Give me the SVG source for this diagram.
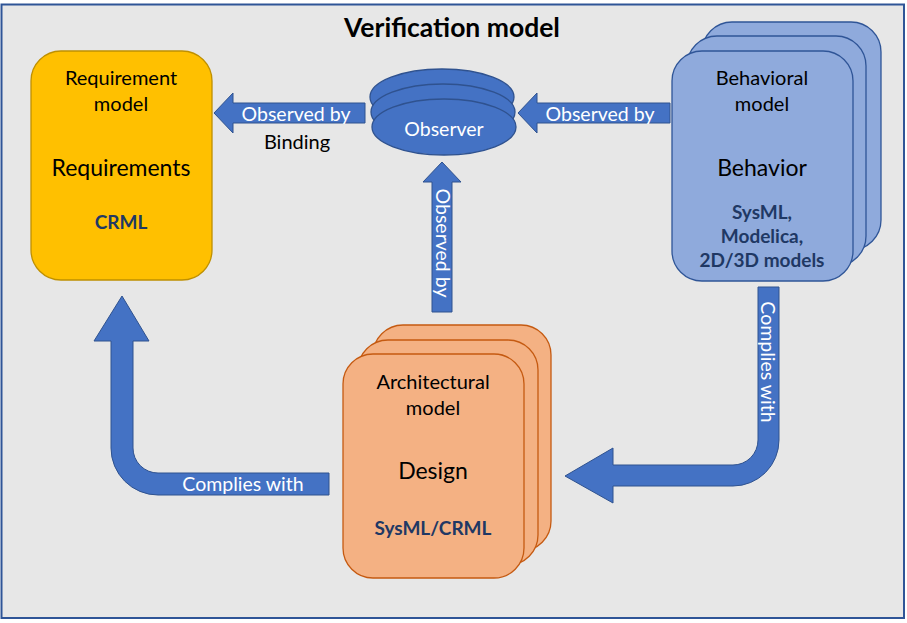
<svg xmlns="http://www.w3.org/2000/svg" width="907" height="623" viewBox="0 0 907 623">
<style>
text{font-family:Lato,"Open Sans","Liberation Sans",sans-serif;text-anchor:middle;dominant-baseline:central}
.t{font-size:20px;fill:#000}
.big{font-size:23px;fill:#000}
.lang{font-size:19px;font-weight:bold;fill:#203864}
.w{font-size:19.5px;fill:#fff}
.arrow{fill:#4472c4;stroke:#2f528f;stroke-width:1}
.req{fill:#ffc000;stroke:#bf9000;stroke-width:1.3}
.arch{fill:#f4b183;stroke:#c55a11;stroke-width:1.3}
.beh{fill:#8faadc;stroke:#2f5597;stroke-width:1.3}
.obs{fill:#4472c4;stroke:#2f528f;stroke-width:1.3}
</style>
<rect x="0" y="0" width="907" height="623" fill="#ffffff"/>
<rect x="1.5" y="4.5" width="902.5" height="613.5" fill="#e7e7e7" stroke="#2f5597" stroke-width="2"/>
<text x="452" y="27" style="font-size:26.5px;font-weight:bold">Verification model</text>

<g id="connectors">
  <path class="arrow" d="M214,113 L233,93 L233,103 L365,103 L365,123 L233,123 L233,133 Z"/>
  <text class="w" x="296" y="113">Observed by</text>
  <path class="arrow" d="M518,113 L537,93 L537,103 L670,103 L670,123 L537,123 L537,133 Z"/>
  <text class="w" x="600" y="113">Observed by</text>
  <path class="arrow" d="M442,162 L461,182 L452,182 L452,312 L432,312 L432,182 L423,182 Z"/>
  <text class="w" transform="translate(443,243) rotate(90)">Observed by</text>
  <path class="arrow" d="M122,296 L149,341 L133,341 L133,448 A25,25 0 0 0 158,473 L329,473 L329,495 L158,495 A47,47 0 0 1 111,448 L111,341 L94,341 Z"/>
  <text class="w" x="243" y="483">Complies with</text>
  <path class="arrow" d="M758,287 L779,287 L779,440 A46,46 0 0 1 733,486 L613,486 L613,503 L565,476 L613,448 L613,465 L733,465 A25,25 0 0 0 758,440 Z"/>
  <text class="w" transform="translate(768,362) rotate(90)">Complies with</text>
  <text class="t" x="297" y="141">Binding</text>
</g>

<g id="requirement-model">
  <rect class="req" x="31" y="51" width="181" height="229" rx="30" ry="30"/>
  <text class="t" x="121" y="77">Requirement</text>
  <text class="t" x="121" y="103">model</text>
  <text class="big" x="121" y="167">Requirements</text>
  <text class="lang" x="121" y="221">CRML</text>
</g>

<g id="observer">
  <ellipse class="obs" cx="442" cy="97" rx="72" ry="28"/>
  <ellipse class="obs" cx="443" cy="112" rx="72" ry="28"/>
  <ellipse class="obs" cx="444" cy="127" rx="72" ry="28"/>
  <text class="w" x="444" y="128">Observer</text>
</g>

<g id="behavioral-model">
  <rect class="beh" x="702" y="22" width="179" height="228" rx="30" ry="30"/>
  <rect class="beh" x="687" y="36" width="179" height="230" rx="30" ry="30"/>
  <rect class="beh" x="672" y="51" width="181" height="230" rx="30" ry="30"/>
  <text class="t" x="762" y="77">Behavioral</text>
  <text class="t" x="762" y="103">model</text>
  <text class="big" x="762" y="167">Behavior</text>
  <text class="lang" x="762" y="211">SysML,</text>
  <text class="lang" x="762" y="235">Modelica,</text>
  <text class="lang" x="762" y="259">2D/3D models</text>
</g>

<g id="architectural-model">
  <rect class="arch" x="373" y="325" width="178" height="226" rx="30" ry="30"/>
  <rect class="arch" x="358" y="340" width="180" height="225" rx="30" ry="30"/>
  <rect class="arch" x="343" y="354" width="181" height="224" rx="30" ry="30"/>
  <text class="t" x="433" y="381">Architectural</text>
  <text class="t" x="433" y="407">model</text>
  <text class="big" x="433" y="470">Design</text>
  <text class="lang" x="433" y="527">SysML/CRML</text>
</g>
</svg>
